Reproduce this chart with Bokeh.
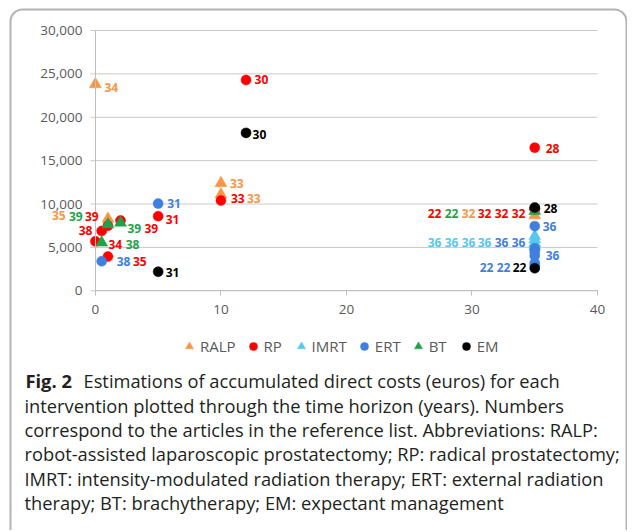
from bokeh.plotting import figure
from bokeh.models import (Range1d, NumeralTickFormatter, FixedTicker, Legend, LegendItem,
                          Label, LabelSet, BoxAnnotation, ColumnDataSource)
from bokeh.embed import file_html
from bokeh.resources import INLINE
from bokeh.core.properties import value

# ---------------- data ----------------
x_ticks = [0, 10, 20, 30, 40]
y_ticks = [0, 5000, 10000, 15000, 20000, 25000, 30000]

series_names = ["RALP", "RP", "IMRT", "ERT", "BT", "EM"]

ralp_years = [0, 1, 10, 10, 35]
ralp_costs = [23800, 8300, 12400, 11100, 8700]
ralp_refs = ["34", "35", "33", "33", "32"]

rp_years = [12, 10, 5, 2, 1, 0.5, 0, 1, 35, 35, 35, 35, 35]
rp_costs = [24300, 10400, 8600, 8100, 7500, 6900, 5700, 3950, 16500, 9450, 9450, 9450, 9450]
rp_refs = ["30", "33", "31", "39", "39", "38", "34", "35", "28", "22", "32", "32", "32"]

imrt_years = [35, 35, 35, 35]
imrt_costs = [6300, 5900, 5500, 5100]
imrt_refs = ["36", "36", "36", "36"]

ert_years = [5, 0.5, 35, 35, 35, 35, 35, 35]
ert_costs = [10050, 3400, 7450, 4050, 4900, 4500, 3200, 2950]
ert_refs = ["31", "38", "36", "36", "36", "36", "22", "22"]

bt_years = [1, 2, 0.5, 35]
bt_costs = [7650, 7850, 5550, 9200]
bt_refs = ["39", "39", "38", "22"]

em_years = [12, 5, 35, 35]
em_costs = [18200, 2200, 9600, 2600]
em_refs = ["30", "31", "28", "22"]

caption_bold = "Fig. 2"
caption_lines = [
    "Estimations of accumulated direct costs (euros) for each",
    "intervention plotted through the time horizon (years). Numbers",
    "correspond to the articles in the reference list. Abbreviations: RALP:",
    "robot-assisted laparoscopic prostatectomy; RP: radical prostatectomy;",
    "IMRT: intensity-modulated radiation therapy; ERT: external radiation",
    "therapy; BT: brachytherapy; EM: expectant management",
]

# ---------------- styling / label layout (screen px offsets) ----------------
colors = {"RALP": "#F79646", "RP": "#FF0000", "IMRT": "#55C8F2",
          "ERT": "#3F7FE0", "BT": "#1FA24A", "EM": "#000000"}
markers = {"RALP": "triangle", "RP": "circle", "IMRT": "triangle",
           "ERT": "circle", "BT": "triangle", "EM": "circle"}
label_dx = {
    "RALP": [9, -56, 9, 26, -73],
    "RP": [8.5, 10, 7.5, 24, -23, -23, 13, 25, 11, -107, -57, -40, -23],
    "IMRT": [-107, -90, -73, -57],
    "ERT": [9, 15, 8, 11, -40, -23, -55, -38],
    "BT": [-39, 7, 24, -90],
    "EM": [6.5, 7.5, 9, -22],
}
label_dy = {  # screen px, positive = down
    "RALP": [3, -3, 0, 4, -2],
    "RP": [0, -2, 3, 8, -9.5, 0, 3, 5, 1, 5, 5, 5, 5],
    "IMRT": [6.4, 2.9, -0.6, -4],
    "ERT": [0, 0, 0, 0, -6, -9, 4.5, 2],
    "BT": [-8, 6, 2, 2.5],
    "EM": [1.5, 1, 1, -0.7],
}
data = {
    "RALP": (ralp_years, ralp_costs, ralp_refs),
    "RP": (rp_years, rp_costs, rp_refs),
    "IMRT": (imrt_years, imrt_costs, imrt_refs),
    "ERT": (ert_years, ert_costs, ert_refs),
    "BT": (bt_years, bt_costs, bt_refs),
    "EM": (em_years, em_costs, em_refs),
}

FONT = "Open Sans"
GRAY = "#595959"
W, H = 627, 530
PX_PER_YEAR = 12.553       # layout: screen scale of the x axis
PX_PER_EURO = 0.008677     # layout: screen scale of the y axis
X0_PX, Y0_PX = 94.9, 290.3  # layout: where the origin sits on the canvas

x_min = -X0_PX / PX_PER_YEAR
x_max = x_min + W / PX_PER_YEAR
y_max = Y0_PX / PX_PER_EURO
y_min = y_max - H / PX_PER_EURO

p = figure(width=W, height=H, min_border=0,
           x_range=Range1d(x_min, x_max), y_range=Range1d(y_min, y_max),
           output_backend="svg", toolbar_location=None, tools="",
           background_fill_color="white", border_fill_color="white")
p.outline_line_color = None
p.xgrid.visible = False
p.ygrid.visible = False

# horizontal gridlines (with small stubs left of the y axis)
p.segment(x0=[-0.4] * len(y_ticks), x1=[x_ticks[-1]] * len(y_ticks), y0=y_ticks, y1=y_ticks,
          line_color="#c9c9c9", line_width=1)

xa, ya = p.xaxis[0], p.yaxis[0]
for ax in (xa, ya):
    ax.minor_tick_line_color = None
    ax.major_label_text_font = FONT
    ax.major_label_text_font_size = "13.5px"
    ax.major_label_text_color = GRAY
    ax.axis_line_color = "#bfbfbf"
    ax.major_tick_line_color = "#bfbfbf"
    ax.major_tick_in = 0
    ax.major_tick_out = 5
    ax.fixed_location = 0
xa.major_label_standoff = 9
ya.major_label_standoff = 8
ya.major_tick_line_color = None
xa.bounds = (x_ticks[0], x_ticks[-1])
ya.bounds = (y_ticks[0], y_ticks[-1])
xa.ticker = FixedTicker(ticks=x_ticks)
ya.ticker = FixedTicker(ticks=y_ticks)
ya.formatter = NumeralTickFormatter(format="0,0")

items = []
for name in series_names:
    xs, ys, refs = data[name]
    src = ColumnDataSource(dict(x=xs, y=ys, t=refs, dx=label_dx[name],
                                dy=[-d for d in label_dy[name]]))
    size = 12 if markers[name] == "triangle" else 10
    r = p.scatter("x", "y", source=src, marker=markers[name], size=size,
                  fill_color=colors[name], line_color=colors[name], line_width=0.5)
    items.append(LegendItem(label=name, renderers=[r]))
    p.add_layout(LabelSet(x="x", y="y", text="t", source=src, x_offset="dx", y_offset="dy",
                          text_color=colors[name], text_font=value(FONT),
                          text_font_style="bold", text_font_size="12px",
                          text_baseline="middle", text_align="left"))

legend = Legend(items=items, orientation="horizontal", location=(179, H - 356),
                padding=0, margin=0, spacing=7, glyph_width=20, glyph_height=20,
                label_standoff=1, border_line_color=None, background_fill_alpha=0,
                label_text_font=FONT, label_text_font_size="15px",
                label_text_color=GRAY)
p.add_layout(legend)

# rounded frame around the whole figure
p.add_layout(BoxAnnotation(left=10, right=626, top=H - 9, bottom=-20,
                           left_units="screen", right_units="screen",
                           top_units="screen", bottom_units="screen",
                           fill_alpha=0, line_color="black", line_width=2,
                           border_radius=12))

# caption
CAP_SIZE = "18.3px"
cap_centers = [380, 405, 429, 453, 478, 502]
p.add_layout(Label(x=25, y=H - cap_centers[0], x_units="screen", y_units="screen",
                   text=caption_bold, text_font=FONT, text_font_style="bold",
                   text_font_size=CAP_SIZE, text_color="#231F20", text_baseline="middle"))
for i, line in enumerate(caption_lines):
    p.add_layout(Label(x=(83 if i == 0 else 24), y=H - cap_centers[i],
                       x_units="screen", y_units="screen",
                       text=line, text_font=FONT, text_font_size=CAP_SIZE,
                       text_color="#231F20", text_baseline="middle"))

open("out.html", "w").write(file_html(p, INLINE))
